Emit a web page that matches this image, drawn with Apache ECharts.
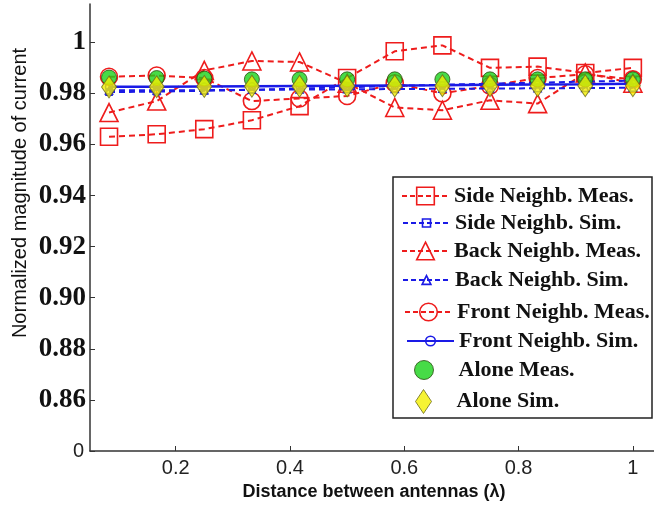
<!DOCTYPE html>
<html><head><meta charset="utf-8">
<script src="https://cdn.jsdelivr.net/npm/echarts@6/dist/echarts.min.js"></script>
<style>html,body{margin:0;padding:0;background:#fff}#c{width:654px;height:506px}</style>
</head><body><div id="c"></div>
<script>
// ---- data ----
const distances = [0.0833, 0.1667, 0.25, 0.3333, 0.4167, 0.5, 0.5833, 0.6667, 0.75, 0.8333, 0.9167, 1.0];
const sideMeas  = [0.963, 0.964, 0.966, 0.9695, 0.975, 0.986, 0.9965, 0.9988, 0.990, 0.9905, 0.988, 0.990];
const sideSim   = [0.9805, 0.9807, 0.981, 0.9814, 0.9819, 0.9824, 0.9829, 0.9834, 0.9838, 0.9842, 0.9846, 0.985];
const backMeas  = [0.9725, 0.977, 0.989, 0.9927, 0.9923, 0.984, 0.9745, 0.9734, 0.9773, 0.976, 0.988, 0.984];
const backSim   = [0.9812, 0.9812, 0.9813, 0.9814, 0.9815, 0.9816, 0.9817, 0.9818, 0.9819, 0.982, 0.9821, 0.9822];
const frontMeas = [0.9865, 0.987, 0.986, 0.977, 0.978, 0.979, 0.984, 0.980, 0.983, 0.986, 0.9875, 0.9855];
const frontSim  = [0.9826, 0.9826, 0.9827, 0.9828, 0.9829, 0.983, 0.9831, 0.9832, 0.9834, 0.9835, 0.9836, 0.9838];
const aloneMeas = [0.9862, 0.986, 0.9858, 0.9855, 0.9855, 0.9855, 0.9855, 0.9855, 0.9855, 0.9855, 0.9855, 0.9855];
const aloneSim  = [0.9825, 0.9826, 0.9827, 0.9828, 0.9828, 0.9829, 0.9829, 0.983, 0.983, 0.983, 0.983, 0.983];
const seriesNames = ['Side Neighb. Meas.', 'Side Neighb. Sim.', 'Back Neighb. Meas.', 'Back Neighb. Sim.',
                     'Front Neighb. Meas.', 'Front Neighb. Sim.', 'Alone Meas.', 'Alone Sim.'];
const xTicks = [0.2, 0.4, 0.6, 0.8, 1];
const xTickLabels = ['0.2', '0.4', '0.6', '0.8', '1'];
const yTicks = [0.84, 0.86, 0.88, 0.90, 0.92, 0.94, 0.96, 0.98, 1.0];
const yTickLabels = ['0', '0.86', '0.88', '0.90', '0.92', '0.94', '0.96', '0.98', '1'];
const xName = 'Distance between antennas (\u03bb)';
const yName = 'Normalized magnitude of current';

// ---- styles ----
const RED = '#ee1c1c', BLUE = '#1a1ae6', GREEN = '#19d219', YELLOW = '#f4f000';
const pairs = arr => distances.map((d, i) => [d, arr[i]]);
const TRANSP = 'rgba(255,255,255,0)';

function lineSeries(name, data, symbol, size, color, dash, width, z) {
  return {
    name, type: 'line', data: pairs(data), symbol, symbolSize: size, z,
    itemStyle: { color: TRANSP, borderColor: color, borderWidth: 1.6 },
    lineStyle: { color, width, type: dash },
    emphasis: { disabled: true }, animation: false
  };
}
const series = [
  lineSeries(seriesNames[0], sideMeas, 'rect', 17, RED, [6, 4], 2, 2),
  lineSeries(seriesNames[1], sideSim, 'rect', 6, BLUE, [6, 4], 2, 3),
  lineSeries(seriesNames[2], backMeas, 'triangle', 18, RED, [6, 4], 2, 2),
  lineSeries(seriesNames[3], backSim, 'triangle', 7, BLUE, [6, 4], 2, 3),
  lineSeries(seriesNames[4], frontMeas, 'circle', 17, RED, [6, 4], 2, 2),
  lineSeries(seriesNames[5], frontSim, 'circle', 7, BLUE, 'solid', 2.5, 3),
  { name: seriesNames[6], type: 'scatter', data: pairs(aloneMeas), symbol: 'circle', symbolSize: 15, z: 4,
    itemStyle: { color: GREEN, borderColor: '#2b4a12', borderWidth: 1 }, emphasis: { disabled: true }, animation: false },
  { name: seriesNames[7], type: 'scatter', data: pairs(aloneSim), symbol: 'diamond', symbolSize: [15, 22], z: 5,
    itemStyle: { color: YELLOW, borderColor: '#6b6a1a', borderWidth: 1 }, emphasis: { disabled: true }, animation: false }
];

const LH = 24;
const legendSpecs = [
  { i: 0, left: 401, cy: 196, w: 47, h: 22, pad: 0, item: { itemStyle: { color: TRANSP, borderColor: RED, borderWidth: 1.6 }, lineStyle: { color: RED, width: 2, type: [5, 3] } } },
  { i: 1, left: 402, cy: 223, w: 47, h: 10, pad: 0, item: { itemStyle: { color: TRANSP, borderColor: BLUE, borderWidth: 1.6 }, lineStyle: { color: BLUE, width: 2, type: [5, 3] } } },
  { i: 2, left: 401, cy: 251, w: 47, h: 22, pad: 0, item: { itemStyle: { color: TRANSP, borderColor: RED, borderWidth: 1.6 }, lineStyle: { color: RED, width: 2, type: [5, 3] } } },
  { i: 3, left: 402, cy: 280, w: 47, h: 11, pad: 0, item: { itemStyle: { color: TRANSP, borderColor: BLUE, borderWidth: 1.6 }, lineStyle: { color: BLUE, width: 2, type: [5, 3] } } },
  { i: 4, left: 404, cy: 312, w: 47, h: 22, pad: 0, item: { itemStyle: { color: TRANSP, borderColor: RED, borderWidth: 1.6 }, lineStyle: { color: RED, width: 2, type: [5, 3] } } },
  { i: 5, left: 406, cy: 341, w: 47, h: 12, pad: 0, item: { itemStyle: { color: TRANSP, borderColor: BLUE, borderWidth: 1.6 }, lineStyle: { color: BLUE, width: 2, type: 'solid' } } },
  { i: 6, left: 414, cy: 370, w: 19, h: 19, pad: 20, item: { icon: 'circle', itemStyle: { color: GREEN, borderColor: '#2b4a12', borderWidth: 1 } } },
  { i: 7, left: 415, cy: 401, w: 16, h: 24, pad: 20, item: { icon: 'path://M2,0L4,3L2,6L0,3Z', itemStyle: { color: YELLOW, borderColor: '#6b6a1a', borderWidth: 1 } } }
];
const legends = legendSpecs.map(s => ({
  data: [Object.assign({ name: seriesNames[s.i] }, s.item)],
  left: s.left, top: s.cy - Math.max(s.h, LH) / 2, padding: 0, z: 20,
  itemWidth: s.w, itemHeight: s.h, itemGap: 0, selectedMode: false,
  textStyle: { fontFamily: 'Liberation Serif', fontWeight: 'bold', fontSize: 22, color: '#111', lineHeight: LH,
    padding: [0, 0, 0, s.pad] }
}));

const chart = echarts.init(document.getElementById('c'), null, { renderer: 'canvas' });
chart.setOption({
  backgroundColor: '#fff',
  animation: false,
  grid: { left: 90, right: 0, top: 4, bottom: 55, containLabel: false },
  xAxis: {
    type: 'value', min: 0.05, max: 1.037,
    axisLine: { lineStyle: { color: '#333', width: 1.5 } },
    axisTick: { inside: true, length: 5, customValues: xTicks, lineStyle: { color: '#333' } },
    axisLabel: { customValues: xTicks, margin: 7, fontFamily: 'Liberation Sans', fontSize: 20, color: '#222',
      formatter: v => xTickLabels[xTicks.findIndex(t => Math.abs(t - v) < 1e-6)] ?? '' },
    splitLine: { show: false }
  },
  yAxis: {
    type: 'value', min: 0.84, max: 1.015,
    axisLine: { show: true, lineStyle: { color: '#333', width: 1.5 } },
    axisTick: { show: true, inside: true, length: 5, customValues: yTicks, lineStyle: { color: '#333' } },
    axisLabel: { customValues: yTicks, margin: 4,
      formatter: v => {
        const k = yTicks.findIndex(t => Math.abs(t - v) < 1e-6);
        if (k < 0) return '';
        return k === 0 ? '{z|' + yTickLabels[k] + '}' : '{b|' + yTickLabels[k] + '}';
      },
      rich: {
        b: { fontFamily: 'Liberation Serif', fontWeight: 'bold', fontSize: 27, color: '#111' },
        z: { fontFamily: 'Liberation Sans', fontSize: 20, color: '#222', padding: [0, 2, 0, 0] }
      }
    },
    splitLine: { show: false }
  },
  legend: legends,
  graphic: [
    { type: 'rect', shape: { x: 393, y: 177, width: 259, height: 241 }, z: 10,
      style: { fill: '#fff', stroke: '#222', lineWidth: 1.5 } },
    { type: 'text', x: 374, y: 492, z: 10,
      style: { text: xName, fontFamily: 'Liberation Sans', fontSize: 18, fontWeight: 'bold', fill: '#111', align: 'center', verticalAlign: 'middle' } },
    { type: 'text', x: 20, y: 193, rotation: Math.PI / 2, z: 10,
      style: { text: yName, fontFamily: 'Liberation Sans', fontSize: 20, fill: '#111', align: 'center', verticalAlign: 'middle' } }
  ],
  series
});
</script>
</body></html>
